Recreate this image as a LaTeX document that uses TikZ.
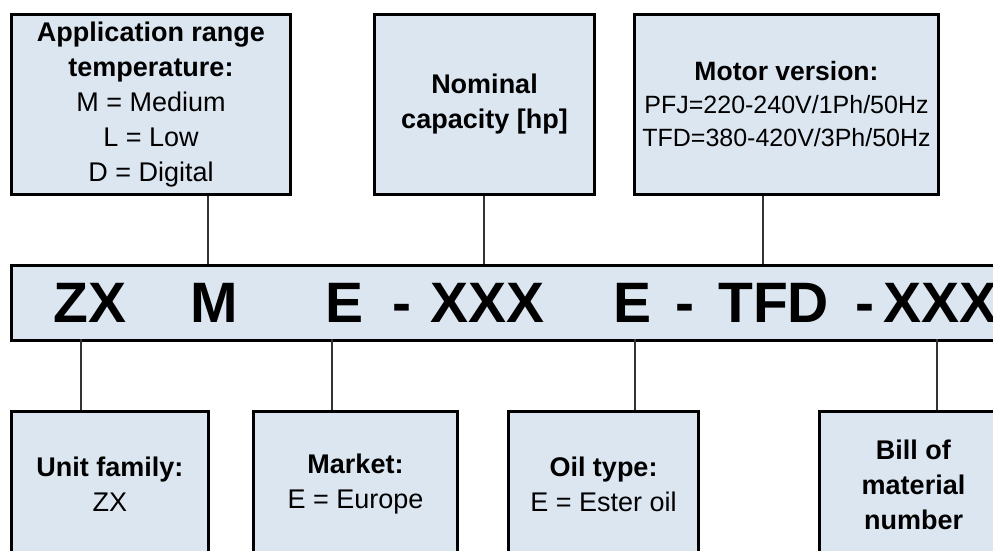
\documentclass[tikz,border=0pt]{standalone}
\usepackage{fontspec}
\setmainfont{Liberation Sans}
\definecolor{boxfill}{HTML}{DCE6F1}
\begin{document}
\begin{tikzpicture}[x=1pt,y=-1pt,
  box/.style={draw=black, line width=3pt, fill=boxfill, align=center,
    anchor=north west, inner sep=0pt, font=\fontsize{27}{35}\selectfont},
  code/.style={anchor=base west, inner sep=0pt, font=\fontsize{57}{60}\selectfont\bfseries},
  link/.style={draw=black!80, line width=1.5pt}]
\clip (0,0) rectangle (993,550);
\fill[white] (0,0) rectangle (993,550);
% top boxes
\node[box, minimum width=279pt, minimum height=180pt] (app) at (10,13)
  {\textbf{Application range}\\\textbf{temperature:}\\M = Medium\\L = Low\\D = Digital};
\node[box, minimum width=220pt, minimum height=180pt] (nom) at (373,13)
  {\textbf{Nominal}\\\textbf{capacity [hp]}};
\node[box, minimum width=304pt, minimum height=180pt, font=\fontsize{25}{33}\selectfont] (mot) at (633,13)
  {\fontsize{26.5}{33}\selectfont\textbf{Motor version:}\\PFJ=220-240V/1Ph/50Hz\\TFD=380-420V/3Ph/50Hz};
% code bar
\node[box, minimum width=1000pt, minimum height=75pt] (bar) at (10,264) {};
\node[code] (tZX) at (53,322) {ZX};
\node[code] (tM) at (190,322) {M};
\node[code] (tE1) at (325,322) {E};
\node[code] (tD1) at (392,322) {-};
\node[code] (tX1) at (430,322) {XXX};
\node[code] (tE2) at (613,322) {E};
\node[code] (tD2) at (675,322) {-};
\node[code] (tTFD) at (718,322) {TFD};
\node[code] (tD3) at (855,322) {-};
\node[code] (tX2) at (883,322) {XXX};
% bottom boxes
\node[box, minimum width=197pt, minimum height=146pt] (unit) at (10,410)
  {\textbf{Unit family:}\\ZX};
\node[box, minimum width=204pt, minimum height=146pt] (mkt) at (252,410)
  {\textbf{Market:}\\E = Europe};
\node[box, minimum width=190pt, minimum height=146pt] (oil) at (507,410)
  {\textbf{Oil type:}\\E = Ester oil};
\node[box, minimum width=188pt, minimum height=146pt] (bill) at (818,410)
  {\textbf{Bill of}\\\textbf{material}\\\textbf{number}};
% connector anchor points on the bar
\coordinate (cM) at (208,264);
\coordinate (cX) at (484,264);
\coordinate (cT) at (763,264);
\coordinate (cZ) at (81,339);
\coordinate (cE1) at (332,339);
\coordinate (cE2) at (635,339);
\coordinate (cB) at (937,339);
\draw[link] (cM |- app.south) -- (cM);
\draw[link] (cX |- nom.south) -- (cX);
\draw[link] (cT |- mot.south) -- (cT);
\draw[link] (cZ) -- (cZ |- unit.north);
\draw[link] (cE1) -- (cE1 |- mkt.north);
\draw[link] (cE2) -- (cE2 |- oil.north);
\draw[link] (cB) -- (cB |- bill.north);
\end{tikzpicture}
\end{document}
